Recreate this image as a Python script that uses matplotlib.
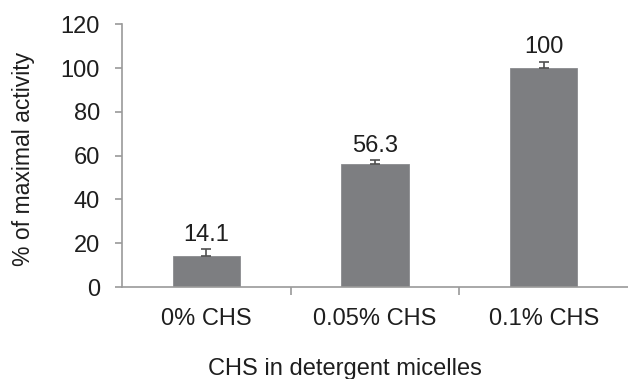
import matplotlib
matplotlib.use("Agg")
import matplotlib.pyplot as plt
import numpy as np

categories = ["0% CHS", "0.05% CHS", "0.1% CHS"]
values = [14.1, 56.3, 100.0]
errors = [3.2, 1.7, 3.0]
value_labels = ["14.1", "56.3", "100"]
yticks = [0, 20, 40, 60, 80, 100, 120]

plt.rcParams['font.family'] = ['Liberation Sans', 'DejaVu Sans']

fig = plt.figure(figsize=(6.28, 3.79), dpi=100)
ax = fig.add_axes([0.1943, 0.2427, 0.8057, 0.6932])

x = np.arange(len(categories))
bar_color = "#7d7e81"
ax.bar(x, values, width=0.4, color=bar_color, edgecolor="#8a8b8e", linewidth=0.6, zorder=2)
ax.errorbar(x, values, yerr=[np.zeros(len(errors)), errors], fmt="none",
            ecolor="#505050", elinewidth=1.2, capsize=3.5, capthick=1.2, zorder=3)

for xi, v, e, lab in zip(x, values, errors, value_labels):
    ax.annotate(lab, (xi, v + e), xytext=(0, 2.5), textcoords="offset points",
                ha="center", va="bottom", fontsize=17, color="#1e1e1e")

ax.set_xlim(-0.5, 2.5)
ax.set_ylim(0, 120)
ax.set_yticks(yticks)
ax.set_yticklabels([str(t) for t in yticks])
ax.set_xticks(x)
ax.set_xticklabels(categories)
ax.set_xticks([0.5, 1.5], minor=True)

axis_color = "#9a9a9a"
for s in ["top", "right"]:
    ax.spines[s].set_visible(False)
for s in ["left", "bottom"]:
    ax.spines[s].set_color(axis_color)
    ax.spines[s].set_linewidth(1.2)

ax.tick_params(axis="y", direction="out", length=5, width=1.2, color=axis_color,
               labelsize=17, labelcolor="#1e1e1e", pad=11)
ax.tick_params(axis="x", which="major", length=0, labelsize=17, labelcolor="#1e1e1e", pad=15)
ax.tick_params(axis="x", which="minor", direction="out", length=6, width=1.2, color=axis_color)

fig.text(24 / 628, 1 - 158.5 / 379, "% of maximal activity", rotation=90,
         ha="center", va="center", fontsize=16.5, color="#1e1e1e")
fig.text(345 / 628, 3.5 / 379, "CHS in detergent micelles", ha="center", va="baseline",
         fontsize=17, color="#1e1e1e")

fig.savefig("out.png", dpi=100)
